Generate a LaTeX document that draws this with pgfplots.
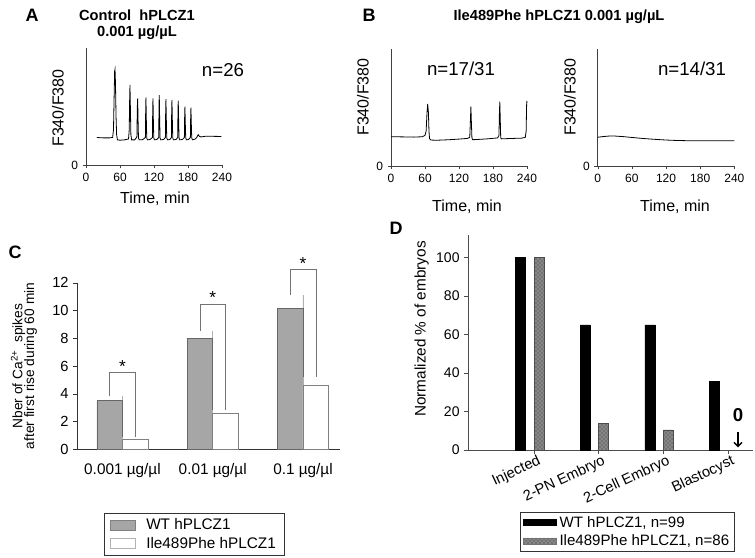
\documentclass[border=0pt]{standalone}
\usepackage{fontspec}
\setmainfont{Liberation Sans}
\usepackage{pgfplots}
\pgfplotsset{compat=1.18}
\usetikzlibrary{patterns,arrows.meta}

\colorlet{wtgray}{black!35}
\colorlet{axgray}{black!75}
\newcommand{\fs}[1]{\fontsize{#1}{#1}\selectfont}

\pgfplotsset{
  trace/.style={scale only axis, width=102pt, height=87.75pt, anchor=south west,
    xmin=0, xmax=240, ymin=0, ymax=1, axis x line=bottom, axis y line=left,
    axis line style={-, axgray}, xtick={0,60,...,240}, ytick={0},
    tick align=outside, major tick length=2.5pt, tick style={axgray},
    tick label style={font=\fs{9}}, /pgf/number format/assume math mode=true,
    clip=false},
  tr/.style={black, line width=0.6pt, no marks, sharp plot},
}

\begin{document}
\begin{tikzpicture}
\useasboundingbox (0pt,0pt) rectangle (566.25pt,-417.75pt);

% ---- A: control trace
\begin{axis}[trace, at={(64.5pt,-123.75pt)}]
\addplot[tr] coordinates {(19,0.235) (30,0.232) (42,0.232) (47,0.236) (48.5,0.30) (49.5,0.55) (50.5,0.80) (51.2,0.818) (52,0.70) (53,0.42) (54,0.26) (55.5,0.215) (60,0.212) (68,0.215) (75,0.222) (76.3,0.30) (77,0.55) (77.6,0.684) (78.3,0.50) (79.2,0.26) (80.5,0.215) (86,0.215) (89.8,0.24) (90.6,0.50) (91.2,0.570) (91.8,0.40) (92.6,0.23) (94,0.215) (100,0.217) (104.8,0.235) (105.4,0.50) (105.8,0.579) (106.4,0.40) (107.2,0.23) (108.5,0.215) (113,0.218) (117.2,0.235) (117.8,0.50) (118.2,0.570) (118.8,0.40) (119.6,0.23) (121,0.215) (125,0.218) (128.3,0.235) (128.9,0.52) (129.3,0.598) (129.9,0.42) (130.7,0.23) (132,0.215) (137,0.218) (140.1,0.235) (140.7,0.50) (141.1,0.562) (141.7,0.40) (142.5,0.23) (144,0.215) (148,0.218) (150.7,0.235) (151.3,0.50) (151.7,0.556) (152.3,0.40) (153.1,0.23) (154.5,0.215) (159,0.218) (161.8,0.235) (162.4,0.49) (162.8,0.550) (163.4,0.40) (164.2,0.23) (165.5,0.215) (170,0.218) (173.6,0.235) (174.2,0.45) (174.6,0.498) (175.2,0.36) (176,0.23) (177.5,0.215) (181,0.218) (184.2,0.235) (184.8,0.44) (185.2,0.490) (185.8,0.36) (186.6,0.23) (188,0.215) (193,0.222) (196,0.24) (198,0.26) (200,0.245) (203,0.24) (210,0.245) (225,0.245) (239,0.244)};
\end{axis}

% ---- B: Ile489Phe traces
\begin{axis}[trace, at={(293.25pt,-124.5pt)}]
\addplot[tr] coordinates {(0,0.250) (20,0.249) (40,0.247) (55,0.250) (60,0.262) (62,0.30) (63.5,0.45) (64.7,0.530) (66,0.46) (67,0.30) (68,0.235) (70,0.222) (80,0.220) (100,0.224) (120,0.230) (135,0.236) (139,0.245) (140.2,0.40) (141,0.507) (141.8,0.38) (142.8,0.24) (144,0.225) (150,0.226) (170,0.232) (188,0.24) (190.5,0.26) (191.3,0.45) (192,0.550) (192.8,0.40) (193.6,0.24) (195,0.232) (210,0.235) (230,0.238) (237,0.245) (238.5,0.30) (239.2,0.50) (239.6,0.556) (240,0.54)};
\end{axis}
\begin{axis}[trace, width=102.5pt, at={(448.3pt,-124.5pt)}]
\addplot[tr] coordinates {(0,0.246) (10,0.252) (20,0.256) (30,0.256) (45,0.251) (60,0.244) (80,0.235) (100,0.228) (120,0.222) (140,0.218) (160,0.216) (200,0.215) (240,0.215)};
\end{axis}

% ---- C: number of spikes
\begin{axis}[scale only axis, width=197pt, height=125pt, at={(58pt,-337pt)}, anchor=south west,
  xmin=-0.5, xmax=2.41, ymin=0, ymax=12, axis x line=bottom, axis y line=left,
  axis line style={-, black!80}, clip=false,
  xtick={0,1,2}, xticklabels={0.001 µg/µl, 0.01 µg/µl, 0.1 µg/µl},
  x tick style={draw=none}, xticklabel style={font=\fs{11.5}, yshift=-4pt},
  extra x ticks={0.5,1.5}, extra x tick labels={},
  extra x tick style={tick style={draw=black!80}, major tick length=4pt, tick align=outside},
  ytick={0,2,...,12}, tick align=outside, major tick length=3pt,
  yticklabel style={font=\fs{11}}, y tick style={black!80},
  /pgf/number format/assume math mode=true,
  legend style={at={(0.102,-0.382)}, anchor=north west, draw=black!80, font=\fs{11.5},
    inner xsep=4pt, inner ysep=2pt, row sep=0pt,
    /tikz/every odd column/.append style={column sep=6pt}},
  legend cell align=left]
\addplot[forget plot, ybar, bar width=0.284, bar shift=-0.142, fill=wtgray, draw=black!60,
  error bars/.cd, y dir=plus, y explicit, error mark=none, error bar style={black!30}]
  table[x=x, y=y, y error=e] {
x y e
0 3.52 0.29
1 8.00 0.52
2 10.15 0.99
};
\addplot[forget plot, ybar, bar width=0.284, bar shift=0.142, fill=white, draw=black!50,
  error bars/.cd, y dir=plus, y explicit, error mark=none, error bar style={black!30}]
  table[x=x, y=y, y error=e] {
x y e
0 0.71 0.19
1 2.63 0.21
2 4.60 0.59
};
\draw[black!55] (axis cs:-0.142,3.81) |- (axis cs:0.142,5.55) -- (axis cs:0.142,0.90);
\draw[black!55] (axis cs:0.858,8.52) |- (axis cs:1.142,10.47) -- (axis cs:1.142,2.84);
\draw[black!55] (axis cs:1.858,11.14) |- (axis cs:2.142,12.95) -- (axis cs:2.142,5.19);
\node[anchor=base, inner sep=0pt, font=\fs{13}] at (axis cs:0,5.55) {*};
\node[anchor=base, inner sep=0pt, font=\fs{13}] at (axis cs:1,10.47) {*};
\node[anchor=base, inner sep=0pt, font=\fs{13}] at (axis cs:2,12.95) {*};
\addlegendimage{legend image code/.code={\draw[fill=wtgray, draw=black!50] (0pt,-3.5pt) rectangle (19pt,4pt);}}
\addlegendentry{WT hPLCZ1}
\addlegendimage{legend image code/.code={\draw[fill=white, draw=black!30] (0pt,-3.5pt) rectangle (19pt,4pt);}}
\addlegendentry{Ile489Phe hPLCZ1}
\end{axis}

% ---- D: embryo development
\begin{axis}[scale only axis, width=213.5pt, height=161.25pt, at={(351.2pt,-337.5pt)}, anchor=south west,
  xmin=-0.955, xmax=3.452, ymin=0, ymax=111.7, axis x line=bottom, axis y line=left,
  axis line style={-, black!70}, clip=false,
  xtick={0.062,1.062,2.062,3.062}, xticklabels={Injected, 2-PN Embryo, 2-Cell Embryo, Blastocyst},
  xticklabel style={rotate=25, anchor=north east, font=\fs{11}, inner sep=1pt, xshift=3pt},
  ytick={0,20,...,100}, tick align=outside, major tick length=3pt, tick style={black!70},
  yticklabel style={font=\fs{10.5}},
  /pgf/number format/assume math mode=true,
  legend style={at={(0.182,-0.288)}, anchor=north west, draw=black!80, font=\fs{11.3},
    inner xsep=2pt, inner ysep=1pt, row sep=0pt,
    /tikz/every odd column/.append style={column sep=0pt}},
  legend cell align=left]
\addplot[forget plot, ybar, bar width=0.155, bar shift=-0.145, fill=black, draw=black]
  coordinates {(0,100) (1,65) (2,65) (3,35.5)};
\addplot[forget plot, ybar, bar width=0.155, bar shift=0.14, fill=black!55, draw=black!70,
  postaction={pattern=crosshatch dots, pattern color=black!20}]
  coordinates {(0,100) (1,14) (2,10.4) (3,0)};
\node[font=\fs{14}\bfseries] at (axis cs:3.22,18.2) {0};
\draw[line width=1pt, -{Straight Barb[length=3pt,width=6pt]}] (axis cs:3.22,9.6) -- (axis cs:3.22,1.4);
\addlegendimage{legend image code/.code={\fill[black] (0pt,-2.3pt) rectangle (25pt,2.3pt);}}
\addlegendentry{WT hPLCZ1, n=99}
\addlegendimage{legend image code/.code={\fill[black!55, postaction={pattern=crosshatch dots, pattern color=black!20}] (0pt,-2.3pt) rectangle (25pt,2.3pt);}}
\addlegendentry{Ile489Phe hPLCZ1, n=86}
\end{axis}

% ---- labels and titles
\begin{scope}[x=0.75pt, y=-0.75pt]
\node[font=\fs{13.5}\bfseries] at (32,15) {A};
\node[font=\fs{13.5}\bfseries] at (369,15) {B};
\node[font=\fs{13.5}\bfseries] at (15,252) {C};
\node[font=\fs{13.5}\bfseries] at (396,228) {D};
\node[font=\fs{11}\bfseries] at (137,15) {Control\ \ hPLCZ1};
\node[font=\fs{11}\bfseries] at (137,33) {0.001 µg/µL};
\node[font=\fs{11}\bfseries] at (559,17) {Ile489Phe hPLCZ1 0.001 µg/µL};
\node[font=\fs{14}] at (223,70) {n=26};
\node[font=\fs{14}] at (461,69) {n=17/31};
\node[font=\fs{14}] at (692,69) {n=14/31};
\node[font=\fs{12}, rotate=90] at (58,108) {F340/F380};
\node[font=\fs{12}, rotate=90] at (363,97) {F340/F380};
\node[font=\fs{12}, rotate=90] at (570,97) {F340/F380};
\node[font=\fs{12}] at (155,199) {Time, min};
\node[font=\fs{12}] at (467,207) {Time, min};
\node[font=\fs{12}] at (675,207) {Time, min};
\node[font=\fs{10.3}, rotate=90, align=center, inner sep=0pt] at (24,366)
  {Nber of Ca\textsuperscript{2+}\ \ spikes\\[-1.5pt] after first rise during 60 min};
\node[font=\fs{11.5}, rotate=90] at (421.7,329) {Normalized \% of embryos};
\end{scope}
\end{tikzpicture}
\end{document}
